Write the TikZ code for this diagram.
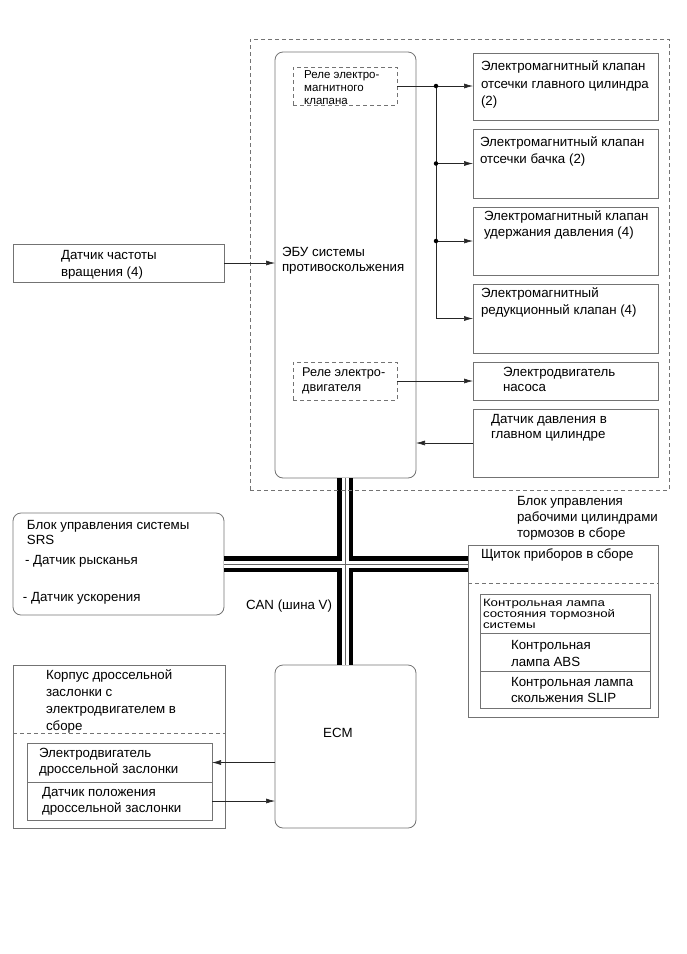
\documentclass[tikz,border=0pt]{standalone}
\usepackage{fontspec}
\setmainfont{Liberation Sans}
\newfontfamily\sqfont[FakeStretch=1.24]{Liberation Sans}
\usetikzlibrary{arrows.meta,fit}
\newcommand\fsr{\rule{0pt}{12pt}}
\begin{document}
\begin{tikzpicture}[x=1pt,y=-1pt,
  box/.style={draw=black!55, line width=0.8pt, inner sep=0pt, outer sep=0pt},
  rbox/.style={box, rounded corners=8pt},
  dbox/.style={draw=black!55, line width=0.7pt, dash pattern=on 4pt off 3pt, inner sep=0pt, outer sep=0pt},
  dsh/.style={draw=black!55, line width=0.7pt, dash pattern=on 4pt off 3pt},
  lbl/.style={anchor=north west, inner sep=0pt, outer sep=0pt, align=left, font=\fontsize{13.3}{#1}\selectfont},
  lbl/.default=17,
  arr/.style={draw=black!85, line width=0.6pt, -{Latex[length=9pt,width=5pt]}},
  dot/.style={circle, fill=black, inner sep=0pt, minimum size=4.5pt},
]
\useasboundingbox (0,0) rectangle (687,954);

% ---------- boxes ----------
\node[rbox, fit={(275,52) (416,478)}] (ecu) {};
\node[dbox, fit={(293,67) (397,105)}] (r1) {};
\node[dbox, fit={(293,362) (397,400)}] (r2) {};
\node[box, fit={(473,53) (658,120)}] (b1) {};
\node[box, fit={(473,129) (658,198)}] (b2) {};
\node[box, fit={(473,207) (658,275)}] (b3) {};
\node[box, fit={(473,284) (658,353)}] (b4) {};
\node[box, fit={(473,362) (658,400)}] (b5) {};
\node[box, fit={(473,409) (658,477)}] (b6) {};
\node[box, fit={(13,244) (224,282)}] (sp) {};
\node[rbox, fit={(13,513) (224,615)}] (srs) {};
\node[box, fit={(468,545) (658,717)}] (cl) {};
\node[box, fit={(480,594) (650,633)}] (l1) {};
\node[box, fit={(480,633) (650,671)}] (l2) {};
\node[box, fit={(480,671) (650,708)}] (l3) {};
\node[rbox, fit={(275,665) (416,828)}] (ecm) {};
\node[box, fit={(13,665) (225,828)}] (th) {};
\node[box, fit={(27,743) (212,782)}] (tm) {};
\node[box, fit={(27,782) (212,820)}] (tp) {};

% ---------- CAN bus ----------
\coordinate (bx) at (345,564);
\draw[line width=16pt] (ecu.south -| bx) -- (ecm.north -| bx);
\draw[line width=16pt] (srs.east |- bx) -- (cl.west |- bx);
\draw[white, line width=7pt] (ecu.south -| bx) -- (ecm.north -| bx);
\draw[white, line width=7pt] (srs.east |- bx) -- (cl.west |- bx);
\draw[black!60, line width=0.7pt] (ecu.south -| bx) -- (ecm.north -| bx);
\draw[black!60, line width=0.7pt] (srs.east |- bx) -- (cl.west |- bx);

% outer dashed group
\node[dbox, fit={(250,39) (669,490)}] (grp) {};

% dividers
\draw[dsh] (cl.west |- 0,583) -- (cl.east |- 0,583);
\draw[dsh] (th.west |- 0,733) -- (th.east |- 0,733);

% ---------- connectors ----------
\coordinate (j1) at (r1 -| 436,0);
\draw[arr] (r1.east) -- (r1 -| b1.west);
\draw[arr] (j1) |- (b4.west);
\draw[arr] (j1 |- b2) -- (b2.west);
\draw[arr] (j1 |- b3) -- (b3.west);
\node[dot] (d1) at (j1) {};
\node[dot] (d2) at (j1 |- b2) {};
\node[dot] (d3) at (j1 |- b3) {};
\draw[arr] (r2.east) -- (r2 -| b5.west);
\draw[arr] (b6.west) -- (b6 -| ecu.east);
\draw[arr] (sp.east) -- (sp -| ecu.west);
\draw[arr] (ecm.west |- tm) -- (tm.east);
\draw[arr] (tp.east) -- (tp -| ecm.west);

% ---------- texts ----------
\node[lbl=17.5] (t1) at (481,58.5) {\fsr Электромагнитный клапан\\отсечки главного цилиндра\\(2)};
\node[lbl=16.5] (t2) at (480,134.5) {\fsr Электромагнитный клапан\\отсечки бачка (2)};
\node[lbl=16] (t3) at (484,208.5) {\fsr Электромагнитный клапан\\удержания давления (4)};
\node[lbl=17] (t4) at (481,285.5) {\fsr Электромагнитный\\редукционный клапан (4)};
\node[lbl=15] (t5) at (503,364.5) {\fsr Электродвигатель\\насоса};
\node[lbl=15] (t6) at (491,411.5) {\fsr Датчик давления в\\главном цилиндре};
\node[lbl=14.5] (te) at (282,244.5) {\fsr ЭБУ системы\\противоскольжения};
\node[lbl=16.5] (ts) at (61,247.5) {\fsr Датчик частоты\\вращения (4)};
\node[anchor=north west, inner sep=0pt, align=left, font=\fontsize{11.5}{13}\selectfont] (tr1) at (304,66.5) {\fsr Реле электро-\\магнитного\\клапана};
\node[anchor=north west, inner sep=0pt, align=left, font=\fontsize{12.7}{15}\selectfont] (tr2) at (302,364.5) {\fsr Реле электро-\\двигателя};
\node[lbl=16] (tb) at (517,493.5) {\fsr Блок управления\\рабочими цилиндрами\\тормозов в сборе};
\node[lbl=15] (s1) at (27,517.5) {\fsr Блок управления системы\\SRS};
\node[lbl] (s2) at (25,552.5) {\fsr - Датчик рысканья};
\node[lbl] (s3) at (23,589.5) {\fsr - Датчик ускорения};
\node[lbl] (tcan) at (246,597.5) {\fsr CAN (шина V)};
\node[lbl] (tcl) at (481,546.5) {\fsr Щиток приборов в сборе};
\node[anchor=north west, inner sep=0pt, outer sep=0pt, align=left, font=\sqfont\fontsize{10.7}{11.2}\selectfont] (tl1) at (483,597.5)
  {\rule{0pt}{9pt}Контрольная лампа\\состояния тормозной\\системы};
\node[lbl=16.5] (tl2) at (511,637.5) {\fsr Контрольная\\лампа ABS};
\node[lbl=16] (tl3) at (511,674.5) {\fsr Контрольная лампа\\скольжения SLIP};
\node[lbl=17] (tth) at (46,667.5) {\fsr Корпус дроссельной\\заслонки с\\электродвигателем в\\сборе};
\node[lbl=16] (ttm) at (39,745.5) {\fsr Электродвигатель\\дроссельной заслонки};
\node[lbl=15.5] (ttp) at (42,784.5) {\fsr Датчик положения\\дроссельной заслонки};
\node[font=\fontsize{13.3}{15}\selectfont, inner sep=0pt] (tecm) at (338,733) {ECM};
\end{tikzpicture}
\end{document}
